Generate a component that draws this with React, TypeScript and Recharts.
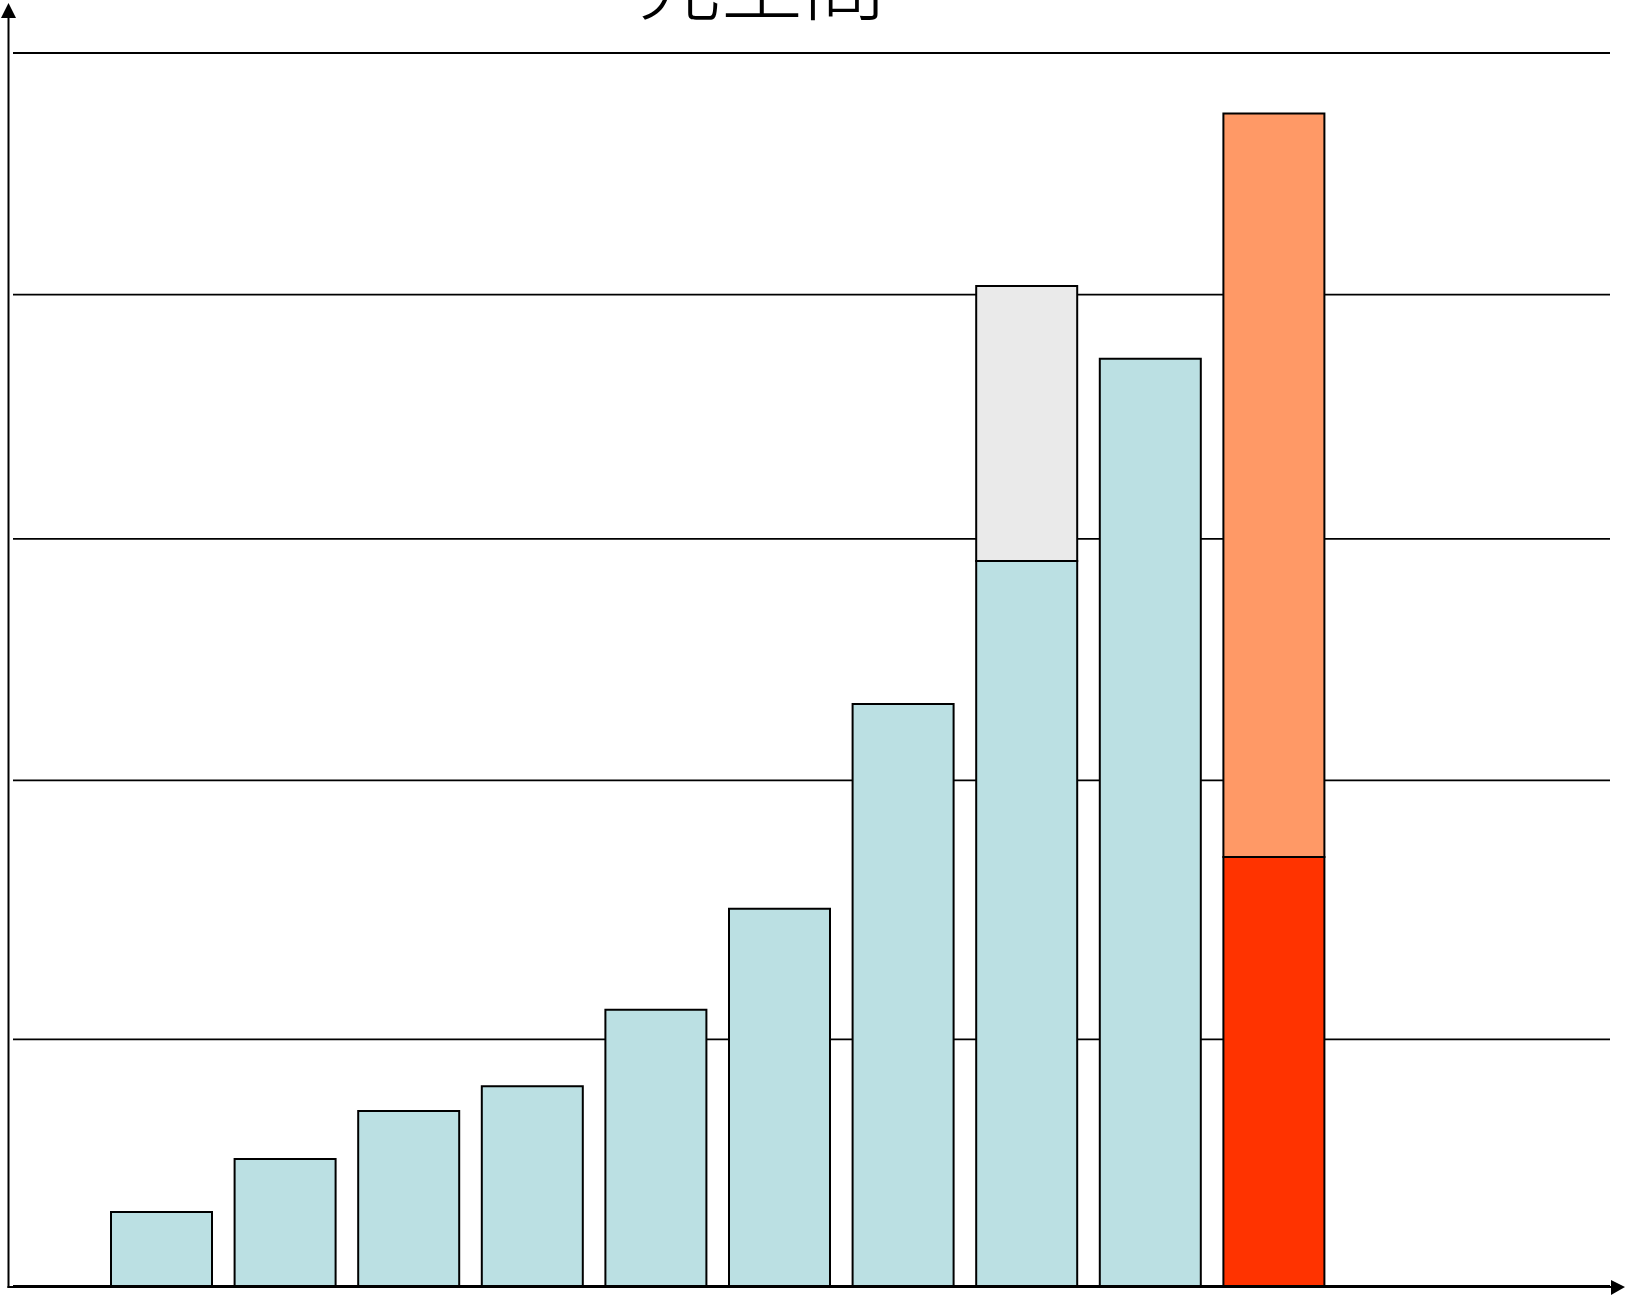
import { BarChart, Bar, XAxis, YAxis, CartesianGrid, Cell } from 'recharts';

// values (no tick labels in the original, units are arbitrary)
const categories = ['1', '2', '3', '4', '5', '6', '7', '8', '9', '10'];
const baseValues = [3.0, 5.15, 7.1, 8.1, 11.2, 15.3, 23.6, 29.4, 37.6, 17.4];
const topValues = [0, 0, 0, 0, 0, 0, 0, 11.15, 0, 30.15];
const gridTicks = [10, 20.5, 30.3, 40.2, 50];
const title = '光空間';

const BLUE = '#BBE0E3';
const GRAY = '#EAEAEA';
const ORANGE = '#FF9966';
const RED = '#FF3300';

const baseFills = [BLUE, BLUE, BLUE, BLUE, BLUE, BLUE, BLUE, BLUE, BLUE, RED];
const topFills = [GRAY, GRAY, GRAY, GRAY, GRAY, GRAY, GRAY, GRAY, GRAY, ORANGE];

const data = categories.map((c, i) => ({ name: c, base: baseValues[i], top: topValues[i] }));

const W = 1633;
const H = 1303;

function Overlay() {
    return (
        <svg width={W} height={H} style={{ position: 'absolute', top: 0, left: 0, pointerEvents: 'none' }}>
            <text
                x={762}
                y={13}
                textAnchor="middle"
                fontSize={82}
                fontFamily="'Noto Sans CJK JP', 'Noto Sans CJK TC', sans-serif"
                fontWeight={300}
                fill="#000"
            >
                {title}
            </text>
            {/* y axis with arrow */}
            <line x1={8.5} y1={16} x2={8.5} y2={1288} stroke="#000" strokeWidth={2} />
            <polygon points="8.5,3 1,18 16,18" fill="#000" />
            {/* x axis with arrow */}
            <line x1={7.5} y1={1287} x2={1612} y2={1287} stroke="#000" strokeWidth={2.2} />
            <polygon points="1625,1287 1611,1280 1611,1295" fill="#000" />
        </svg>
    );
}

export default function App() {
    return (
        <div style={{ position: 'absolute', top: 0, left: 0, width: W, height: H, background: '#fff' }}>
            <BarChart width={W} height={H} data={data} margin={{ top: 53, right: 23, bottom: 17, left: 13 }}>
                <CartesianGrid vertical={false} stroke="#000" strokeWidth={1.8} />
                <XAxis dataKey="name" hide padding={{ left: 87, right: 274 }} />
                <YAxis hide domain={[0, 50]} ticks={gridTicks} />
                <Bar dataKey="base" stackId="s" barSize={101} stroke="#000" strokeWidth={2} isAnimationActive={false}>
                    {data.map((d, i) => (
                        <Cell key={'b' + i} fill={baseFills[i]} />
                    ))}
                </Bar>
                <Bar dataKey="top" stackId="s" barSize={101} stroke="#000" strokeWidth={2} isAnimationActive={false}>
                    {data.map((d, i) => (
                        <Cell key={'t' + i} fill={topFills[i]} />
                    ))}
                </Bar>
            </BarChart>
            <Overlay />
        </div>
    );
}
